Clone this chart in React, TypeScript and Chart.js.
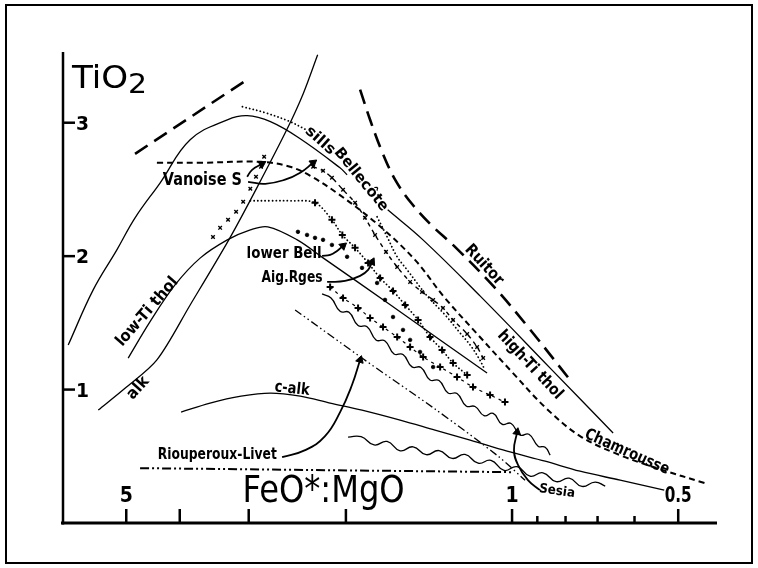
import React, { useEffect, useRef } from 'react';
import { Chart, registerables } from 'chart.js';

Chart.register(...registerables);

// ---------- axes ----------
const xMin = 0.4253;
const xMax = 6.51;
const yMin = 0;
const yMax = 3.53;
const xMajorTicks = [5, 4, 3, 2, 1, 0.5];
const xMinorTicks = [0.9, 0.8, 0.7, 0.6];
const xLabelValues = [5, 1, 0.5];
const xLabelTexts = ['5', '1', '0.5'];
const yTicks = [1, 2, 3];
const yTickTexts = ['1', '2', '3'];

// ---------- series (x = FeO*:MgO, y = TiO2) ----------
const topLeftDashX = [4.82, 3.02];
const topLeftDashY = [2.767, 3.323];

const bigHumpX = [6.37, 5.74, 5.2, 4.82, 4.34, 3.83, 3.28, 3.02, 2.74, 2.42, 2.05, 1.99, 1.85, 1.68, 1.45, 1.143, 0.853, 0.656];
const bigHumpY = [1.334, 1.747, 2.047, 2.287, 2.55, 2.872, 3.022, 3.053, 3.008, 2.88, 2.662, 2.61, null, 2.347, 2.122, 1.702, 1.161, 0.674];

const secondHumpX = [4.96, 4.53, 4.08, 3.67, 3.28, 2.98, 2.77, 2.45, 2.2, 1.66, 1.35, 1.11];
const secondHumpY = [1.236, 1.507, 1.784, 1.987, 2.122, 2.197, 2.22, 2.122, 1.987, 1.634, 1.371, 1.124];

const alkX = [5.62, 5.02, 4.4, 3.83, 3.26, 2.9, 2.56, 2.39, 2.25];
const alkY = [0.846, 1.011, 1.222, 1.634, 2.122, 2.512, 2.947, 3.218, 3.51];

const ruitorX = [1.885, 1.808, 1.72, 1.629, 1.524, 1.396, 1.274, 1.082, 0.939, 0.785];
const ruitorY = [3.248, 3.022, 2.782, 2.573, 2.4, 2.227, 2.077, 1.777, 1.477, 1.072];

const chamrousseX = [4.4, 3.67, 2.85, 2.525, 2.32, 2.066, 1.756, 1.499, 1.328, 1.152, 1.0, 0.868, 0.753, 0.637, 0.539, 0.447];
const chamrousseY = [2.7, 2.7, 2.707, 2.67, 2.602, 2.467, 2.242, 1.972, 1.694, 1.409, 1.131, 0.861, 0.651, 0.508, 0.403, 0.298];

const sillsX = [3.08, 2.8, 2.525, 2.343, 2.0, 1.756, 1.684, 1.615, 1.549, 1.468, 1.42, 1.322, 1.242, 1.191, 1.152, 1.119];
const sillsY = [3.12, 3.075, 3.008, 2.94, null, 2.295, 2.145, 1.995, 1.897, 1.769, 1.694, 1.559, 1.424, 1.334, 1.244, 1.146];

const plusUpperX = [2.98, 2.74, 2.525, 2.275, 2.12, 2.03, 1.925, 1.823, 1.734, 1.643, 1.562, 1.48, 1.408, 1.339, 1.279, 1.206];
const plusUpperY = [2.415, 2.415, 2.415, 2.4, 2.272, 2.159, 2.062, 1.949, 1.837, 1.739, 1.634, 1.522, 1.394, 1.297, 1.199, 1.109];

const plusLowerX = [2.136, 2.024, 1.901, 1.808, 1.713, 1.615, 1.53, 1.449, 1.35, 1.258, 1.177, 1.096, 1.03];
const plusLowerY = [1.769, 1.687, 1.612, 1.537, 1.469, 1.394, 1.319, 1.244, 1.169, 1.094, 1.019, 0.959, 0.906];

const circlesX = [2.443, 2.352, 2.275, 2.2, 2.12, 1.99, 1.87, 1.756, 1.699, 1.643, 1.576, 1.53, 1.468, 1.39];
const circlesY = [2.182, 2.159, 2.137, 2.122, 2.084, 1.995, 1.912, 1.799, 1.672, 1.544, 1.447, 1.372, 1.282, 1.169];

const xAscX = [3.482, 3.38, 3.27, 3.162, 3.07, 2.98, 2.91, 2.85, 2.813];
const xAscY = [2.144, 2.212, 2.272, 2.332, 2.407, 2.505, 2.595, 2.67, 2.745];

const xDescX = [2.293, 2.2, 2.12, 2.024, 1.925, 1.847, 1.771, 1.692, 1.615, 1.53, 1.456, 1.39, 1.334, 1.279, 1.206, 1.157, 1.128];
const xDescY = [2.67, 2.64, 2.587, 2.497, 2.4, 2.287, 2.159, 2.032, 1.919, 1.807, 1.732, 1.672, 1.612, 1.522, 1.417, 1.319, 1.236];

const wavyUpperX = [2.209, 2.128, 2.049, 1.974, 1.901, 1.831, 1.764, 1.699, 1.636, 1.576, 1.518, 1.462, 1.408, 1.356, 1.306, 1.258, 1.211, 1.167, 1.124, 1.082, 1.043, 1.004, 0.967, 0.932, 0.897, 0.871, 0.853];
const wavyUpperY = [1.717, 1.686, 1.587, 1.579, 1.48, 1.471, 1.372, 1.364, 1.267, 1.263, 1.17, 1.166, 1.072, 1.068, 0.974, 0.971, 0.877, 0.873, 0.804, 0.821, 0.741, 0.746, 0.66, 0.665, 0.576, 0.568, 0.508];

const wavyLowerX = [1.982, 1.877, 1.778, 1.684, 1.595, 1.511, 1.431, 1.356, 1.284, 1.217, 1.152, 1.092, 1.034, 0.979, 0.928, 0.879, 0.832, 0.788, 0.747, 0.707, 0.678];
const wavyLowerY = [0.644, 0.647, 0.585, 0.611, 0.541, 0.571, 0.512, 0.543, 0.484, 0.514, 0.448, 0.469, 0.394, 0.422, 0.351, 0.376, 0.31, 0.336, 0.274, 0.307, 0.276];

const dashDotX = [2.472, 1.87, 1.379, 1.06, 0.947];
const dashDotY = [1.597, 1.236, 0.854, 0.501, 0.32];

const riouperouxX = [4.72, 1.0];
const riouperouxY = [0.411, 0.381];

const cAlkX = [3.978, 3.525, 3.097, 2.74, 2.42, 2.136, 1.87, 1.595, 1.379, 1.191, 1.021, 0.871, 0.753, 0.637, 0.53];
const cAlkY = [0.831, 0.899, 0.951, 0.974, 0.951, 0.899, 0.846, 0.771, 0.696, 0.621, 0.538, 0.463, 0.388, 0.321, 0.246];

// arrows
const arrowVanoise1X = [3.02, 2.958, 2.838];
const arrowVanoise1Y = [2.595, 2.647, 2.692];
const arrowVanoise2X = [3.008, 2.8, 2.578, 2.42, 2.293];
const arrowVanoise2Y = [2.557, 2.542, 2.573, 2.625, 2.7];
const arrowBellX = [2.209, 2.136, 2.075, 2.024];
const arrowBellY = [2.002, 2.009, 2.039, 2.077];
const arrowAigX = [2.163, 2.007, 1.885, 1.823, 1.793];
const arrowAigY = [1.807, 1.814, 1.852, 1.897, 1.957];
const arrowRioX = [2.61, 2.371, 2.182, 2.049, 1.95, 1.885];
const arrowRioY = [0.493, 0.546, 0.651, 0.831, 1.034, 1.222];
const arrowSesiaX = [0.89, 0.936, 0.975, 0.992, 0.979];
const arrowSesiaY = [0.246, 0.321, 0.433, 0.546, 0.681];

// curve labels (anchored in data coordinates)
const labelTexts = ['Vanoise S', 'sills', 'Bellecôte', 'Ruitor', 'high-Ti thol', 'Chamrousse', 'low-Ti thol', 'alk', 'c-alk', 'lower Bell', 'Aig.Rges', 'Riouperoux-Livet', 'Sesia'];
const labelX = [3.64, 2.227, 1.877, 1.124, 0.928, 0.619, 4.58, 4.76, 2.504, 2.588, 2.504, 3.42, 0.829];
const labelY = [2.565, 2.865, 2.573, 1.934, 1.184, 0.531, 1.582, 1.011, 1.004, 2.017, 1.837, 0.508, 0.238];

// label styling (kept apart from values)
const labelStyle = [
  { angle: 0, size: 17, width: 79 },
  { angle: 42, size: 15, width: 35 },
  { angle: 51, size: 15, width: 77 },
  { angle: 47, size: 16, width: 49 },
  { angle: 47, size: 16, width: 88 },
  { angle: 24, size: 16, width: 91 },
  { angle: -49, size: 16, width: 86 },
  { angle: -48, size: 16, width: 25 },
  { angle: 6, size: 16, width: 35 },
  { angle: 0, size: 16, width: 75 },
  { angle: 0, size: 16, width: 61 },
  { angle: 0, size: 15, width: 119 },
  { angle: 8, size: 13, width: 36 },
];

const FONT = '"DejaVu Sans Condensed", "DejaVu Sans", sans-serif';

function pts(xs: number[], ys: (number | null)[]) {
  return xs.map((x, i) => ({ x, y: ys[i] }));
}

function drawText(
  ctx: CanvasRenderingContext2D,
  text: string,
  x: number,
  y: number,
  size: number,
  width: number | null,
  angle = 0,
  weight = 'bold',
  align: CanvasTextAlign = 'center',
  baseline: CanvasTextBaseline = 'middle'
) {
  ctx.save();
  ctx.font = `${weight} ${size}px ${FONT}`;
  ctx.textAlign = align;
  ctx.textBaseline = baseline;
  const w = ctx.measureText(text).width;
  const sx = width && w > 0 ? width / w : 1;
  ctx.translate(x, y);
  ctx.rotate((angle * Math.PI) / 180);
  ctx.scale(sx, 1);
  ctx.fillStyle = '#000';
  ctx.fillText(text, 0, 0);
  ctx.restore();
}

const decorPlugin = {
  id: 'decor',
  beforeDraw(chart: any) {
    const { ctx, width, height } = chart;
    ctx.save();
    ctx.fillStyle = '#fff';
    ctx.fillRect(0, 0, width, height);
    ctx.restore();
  },
  afterDraw(chart: any) {
    const ctx: CanvasRenderingContext2D = chart.ctx;
    const a = chart.chartArea;
    const xs = chart.scales.x;
    const ys = chart.scales.y;
    ctx.save();
    ctx.strokeStyle = '#000';
    ctx.fillStyle = '#000';
    ctx.lineCap = 'butt';

    // y axis line
    ctx.lineWidth = 2.5;
    ctx.beginPath();
    ctx.moveTo(a.left, a.top);
    ctx.lineTo(a.left, a.bottom + 1.5);
    ctx.stroke();
    // x axis line
    ctx.lineWidth = 3;
    ctx.beginPath();
    ctx.moveTo(a.left - 2, a.bottom);
    ctx.lineTo(a.right, a.bottom);
    ctx.stroke();

    // x ticks (drawn inward)
    ctx.lineWidth = 2.5;
    for (const v of xMajorTicks) {
      const px = xs.getPixelForValue(v);
      ctx.beginPath();
      ctx.moveTo(px, a.bottom);
      ctx.lineTo(px, a.bottom - 14);
      ctx.stroke();
    }
    for (const v of xMinorTicks) {
      const px = xs.getPixelForValue(v);
      ctx.beginPath();
      ctx.moveTo(px, a.bottom);
      ctx.lineTo(px, a.bottom - 7);
      ctx.stroke();
    }
    xLabelValues.forEach((v, i) => {
      const t = xLabelTexts[i];
      drawText(ctx, t, xs.getPixelForValue(v), a.bottom - 21, 21, t.length > 1 ? 27 : null, 0, 'bold', 'center', 'alphabetic');
    });

    // y ticks (drawn inward) with labels
    yTicks.forEach((v, i) => {
      const py = ys.getPixelForValue(v);
      ctx.lineWidth = 2.5;
      ctx.beginPath();
      ctx.moveTo(a.left, py);
      ctx.lineTo(a.left + 12, py);
      ctx.stroke();
      drawText(ctx, yTickTexts[i], a.left + 13, py + 7, 19, 13, 0, 'bold', 'left', 'alphabetic');
    });

    // axis titles
    drawText(ctx, 'TiO', a.left + 9, a.top + 36, 32, 56, 0, 'normal', 'left', 'alphabetic');
    drawText(ctx, '2', a.left + 65, a.top + 41, 26, 19, 0, 'normal', 'left', 'alphabetic');
    drawText(ctx, 'FeO*:MgO', xs.getPixelForValue(2.195), a.bottom - 21, 38, 162, 0, 'normal', 'center', 'alphabetic');

    // curve labels
    labelTexts.forEach((t, i) => {
      const st = labelStyle[i];
      drawText(ctx, t, xs.getPixelForValue(labelX[i]), ys.getPixelForValue(labelY[i]), st.size, st.width, st.angle, 'bold');
    });

    // outer frame
    ctx.lineWidth = 2;
    ctx.strokeRect(6, 5, 746, 558);
    ctx.restore();
  },
};

const arrowRotation = (c: any) => {
  const data = c.dataset.data;
  const i = c.dataIndex;
  if (i < 1) return 0;
  const xs = c.chart.scales.x;
  const ys = c.chart.scales.y;
  const dx = xs.getPixelForValue(data[i].x) - xs.getPixelForValue(data[i - 1].x);
  const dy = ys.getPixelForValue(data[i].y) - ys.getPixelForValue(data[i - 1].y);
  return (Math.atan2(dx, -dy) * 180) / Math.PI;
};
const lastPointRadius = (c: any) => (c.dataIndex === c.dataset.data.length - 1 ? 4.5 : 0);

function line(data: any[], opts: any = {}) {
  return {
    data,
    borderColor: '#000',
    backgroundColor: '#000',
    pointBorderColor: '#000',
    pointBackgroundColor: '#000',
    pointRadius: 0,
    borderWidth: 1.3,
    tension: 0.4,
    fill: false,
    spanGaps: false,
    ...opts,
  };
}

function arrow(data: any[]) {
  return line(data, {
    borderWidth: 1.8,
    tension: 0.45,
    pointStyle: 'triangle',
    pointRadius: lastPointRadius,
    pointRotation: arrowRotation,
    pointBorderWidth: 1,
  });
}

export default function App() {
  const ref = useRef<HTMLCanvasElement>(null);
  useEffect(() => {
    if (!ref.current) return;
    const datasets: any[] = [
      line(pts(topLeftDashX, topLeftDashY), { borderWidth: 2.6, borderDash: [15, 8], tension: 0 }),
      line(pts(bigHumpX, bigHumpY), { tension: 0.4 }),
      line(pts(secondHumpX, secondHumpY), { tension: 0.35 }),
      line(pts(alkX, alkY), { tension: 0.3 }),
      line(pts(ruitorX, ruitorY), { borderWidth: 2.6, borderDash: [15, 8], tension: 0.35 }),
      line(pts(chamrousseX, chamrousseY), { borderWidth: 2, borderDash: [6, 4], tension: 0.35 }),
      line(pts(sillsX, sillsY), { borderWidth: 1.8, borderDash: [0.1, 3.6], borderCapStyle: 'round', tension: 0.35 }),
      line(pts(plusUpperX, plusUpperY), {
        borderWidth: 1.8,
        borderDash: [0.1, 3.6],
        borderCapStyle: 'round',
        tension: 0.35,
        pointStyle: 'cross',
        pointRadius: (c: any) => (c.dataIndex < 3 ? 0 : 3.5),
        pointBorderWidth: 2,
      }),
      line(pts(plusLowerX, plusLowerY), {
        borderWidth: 1.2,
        borderDash: [3, 4],
        tension: 0.3,
        pointStyle: 'cross',
        pointRadius: 3.5,
        pointBorderWidth: 2,
      }),
      line(pts(circlesX, circlesY), { showLine: false, pointStyle: 'circle', pointRadius: 1.8, pointBorderWidth: 0.8 }),
      line(pts(xAscX, xAscY), { showLine: false, pointStyle: 'crossRot', pointRadius: 2.5, pointBorderWidth: 1.4 }),
      line(pts(xDescX, xDescY), {
        borderWidth: 1.4,
        borderDash: [4, 4],
        tension: 0.3,
        pointStyle: 'crossRot',
        pointRadius: 2.5,
        pointBorderWidth: 1.4,
      }),
      line(pts(wavyUpperX, wavyUpperY), { borderWidth: 1.3, tension: 0.5 }),
      line(pts(wavyLowerX, wavyLowerY), { borderWidth: 1.3, tension: 0.5 }),
      line(pts(dashDotX, dashDotY), { borderWidth: 1.3, borderDash: [8, 3, 1.5, 3, 1.5, 3], tension: 0.3 }),
      line(pts(riouperouxX, riouperouxY), { borderWidth: 2, borderDash: [9, 3, 2, 3, 2, 3], tension: 0 }),
      line(pts(cAlkX, cAlkY), { tension: 0.35 }),
      arrow(pts(arrowVanoise1X, arrowVanoise1Y)),
      arrow(pts(arrowVanoise2X, arrowVanoise2Y)),
      arrow(pts(arrowBellX, arrowBellY)),
      arrow(pts(arrowAigX, arrowAigY)),
      arrow(pts(arrowRioX, arrowRioY)),
      arrow(pts(arrowSesiaX, arrowSesiaY)),
    ];
    const chart = new Chart(ref.current, {
      type: 'line',
      data: { datasets },
      options: {
        responsive: false,
        animation: false,
        devicePixelRatio: 1,
        events: [],
        layout: { padding: { left: 63, right: 41, top: 52, bottom: 45 } },
        plugins: { legend: { display: false }, tooltip: { enabled: false } },
        scales: {
          x: { type: 'logarithmic', reverse: true, min: xMin, max: xMax, display: false },
          y: { type: 'linear', min: yMin, max: yMax, display: false },
        },
      },
      plugins: [decorPlugin],
    } as any);
    return () => chart.destroy();
  }, []);
  return (
    <div style={{ position: 'absolute', left: 0, top: 0, width: 758, height: 568, background: '#fff' }}>
      <canvas ref={ref} width={758} height={568} style={{ display: 'block', width: 758, height: 568 }} />
    </div>
  );
}
